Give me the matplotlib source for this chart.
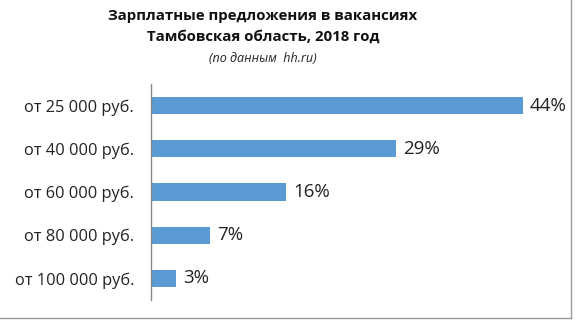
import matplotlib
matplotlib.use('Agg')
import matplotlib.pyplot as plt
from matplotlib.lines import Line2D

plt.rcParams['font.family'] = ['Open Sans', 'DejaVu Sans']

# Data
categories = ['от 25 000 руб.', 'от 40 000 руб.', 'от 60 000 руб.',
              'от 80 000 руб.', 'от 100 000 руб.']
shares = [44, 29, 16, 7, 3]
title = 'Зарплатные предложения в вакансиях\nТамбовская область, 2018 год'
subtitle = '(по данным  hh.ru)'

W, H = 575, 320
fig = plt.figure(figsize=(W / 100, H / 100), dpi=100)
ax = fig.add_axes([150.7 / W, 1 - 300 / H, (560 - 150.7) / W, 216 / H])

pos = list(range(len(categories)))
ax.barh(pos, shares, height=0.4, color='#5B9BD5')
ax.set_ylim(len(categories) - 0.5, -0.5)
ax.set_xlim(0, 44 * (560 - 150.7) / 372)
ax.set_yticks(pos)
ax.set_yticklabels(categories, fontsize=11.8, color='#222222')
ax.tick_params(axis='y', length=0, pad=12)
ax.set_xticks([])
for s in ['top', 'right', 'bottom']:
    ax.spines[s].set_visible(False)
ax.spines['left'].set_color('#888888')
ax.spines['left'].set_linewidth(1)

for p, v in zip(pos, shares):
    ax.annotate(f'{v}%', (v, p), xytext=(5, 0), textcoords='offset points',
                va='center', ha='left', fontsize=13.5, color='#222222')

fig.text(263 / W, 1 - 26 / H, title, ha='center', va='center',
         fontsize=10.8, fontweight='bold', linespacing=1.6, color='#111111')
fig.text(263 / W, 1 - 58 / H, subtitle, ha='center', va='center',
         fontsize=9, style='italic', color='#222222')

# chart border (right and bottom visible)
fig.add_artist(Line2D([571 / W, 571 / W], [1 - 318 / H, 1], transform=fig.transFigure,
                      color='#999999', lw=1))
fig.add_artist(Line2D([0, 571 / W], [1 - 318 / H, 1 - 318 / H], transform=fig.transFigure,
                      color='#999999', lw=1))

fig.savefig('out.png', dpi=100)
